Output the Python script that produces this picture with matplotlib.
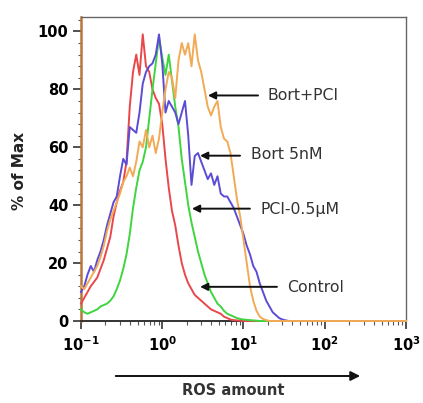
import matplotlib
matplotlib.use("Agg")
import matplotlib.pyplot as plt
import numpy as np
from matplotlib.ticker import FixedLocator, NullFormatter

# ---- data (log10 of ROS amount, histogram % of max) ----
log_ros = [-1.00, -0.96, -0.92, -0.88, -0.84, -0.80, -0.76, -0.72, -0.68, -0.64,
           -0.60, -0.56, -0.52, -0.48, -0.44, -0.40, -0.36, -0.32, -0.28, -0.24,
           -0.20, -0.16, -0.12, -0.08, -0.04, 0.00, 0.04, 0.08, 0.12, 0.16,
           0.20, 0.24, 0.28, 0.32, 0.36, 0.40, 0.44, 0.48, 0.52, 0.56,
           0.60, 0.64, 0.68, 0.72, 0.76, 0.80, 0.84, 0.88, 0.92, 0.96,
           1.00, 1.04, 1.08, 1.12, 1.16, 1.20, 1.24, 1.28, 1.32, 1.36,
           1.40, 1.44, 1.48, 1.52, 1.56, 1.60, 3.00]

control = [6, 8, 10, 12, 13.5, 15, 18, 21, 25, 29,
           36, 41, 45, 48, 55, 74, 86, 92, 85, 99,
           88, 86, 80, 77, 75, 68, 56, 46, 38, 33,
           26, 20, 16, 13, 11, 9, 8, 7, 6, 5,
           4, 3.5, 3, 2.5, 1.5, 1, 0.5, 0.3, 0.2, 0.1,
           0, 0, 0, 0, 0, 0, 0, 0, 0, 0,
           0, 0, 0, 0, 0, 0, 0]

pci = [4, 3, 2.5, 3, 3.5, 4, 5, 5.5, 6, 7,
       8.5, 11, 14, 18, 23, 30, 39, 46, 52, 55,
       60, 70, 80, 89, 98, 91, 85, 92, 83, 74,
       67, 56, 48, 40, 34, 29, 24, 20, 16, 13,
       10, 8, 6, 5, 3.5, 2.5, 2, 1.5, 1, 0.7,
       0.5, 0.4, 0.3, 0.2, 0.1, 0, 0, 0, 0, 0,
       0, 0, 0, 0, 0, 0, 0]

bort = [10, 12, 16, 19, 17, 21, 24, 28, 33, 37,
        41, 43, 50, 56, 54, 67, 66, 65, 72, 82,
        86, 88, 89, 92, 99, 89, 72, 76, 74, 72,
        68, 72, 76, 64, 47, 57, 58, 55, 52, 49,
        51, 47, 50, 44, 43, 43, 41, 39, 36, 33,
        30, 26, 23, 19, 17, 13, 10, 7, 5, 3,
        2, 1, 0.5, 0.2, 0, 0, 0]

bort_pci = [12, 11, 13, 15, 17, 19, 22, 26, 31, 35,
            38, 41, 44, 48, 50, 53, 50, 55, 62, 60,
            66, 60, 64, 58, 63, 72, 80, 86, 84, 77,
            90, 96, 92, 96, 88, 99, 90, 86, 80, 74,
            71, 74, 76, 67, 63, 62, 58, 50, 42, 36,
            28, 20, 12, 7, 3.5, 1.5, 0.7, 0.3, 0, 0,
            0, 0, 0, 0, 0, 0, 0]

series = [("Control", control, "#e8474c"),
          ("PCI-0.5\u03bcM", pci, "#3fd53f"),
          ("Bort 5nM", bort, "#5b4cd6"),
          ("Bort+PCI", bort_pci, "#f2aa55")]

x_ticks = [0.1, 1, 10, 100, 1000]
x_tick_labels = [r"$\mathbf{10^{-1}}$", r"$\mathbf{10^{0}}$", r"$\mathbf{10^{1}}$",
                 r"$\mathbf{10^{2}}$", r"$\mathbf{10^{3}}$"]
y_ticks = [0, 20, 40, 60, 80, 100]

# annotation: label, arrow head (x, y), arrow tail x, text x, text y
annotations = [("Bort+PCI", 3.65, 77.9, 15.1, 20.0, 77.9),
               ("Bort 5nM", 2.92, 57.1, 9.06, 12.4, 57.4),
               ("PCI-0.5\u03bcM", 2.32, 38.8, 12.0, 16.0, 38.6),
               ("Control", 2.92, 11.8, 25.8, 34.3, 11.6)]

plt.rcParams["font.family"] = ["DejaVu Sans"]
plt.rcParams["mathtext.fontset"] = "dejavusans"

fig = plt.figure(figsize=(4.23, 4.03), dpi=100)
ax = fig.add_axes([0.1915, 0.2035, 0.7683, 0.7543])

ax.set_xscale("log")
ax.set_xlim(0.1, 1000)
ax.set_ylim(0, 105)

ax.xaxis.set_major_locator(FixedLocator(x_ticks))
ax.set_xticklabels(x_tick_labels)
ax.xaxis.set_minor_locator(FixedLocator(
    [m * 10.0 ** e for e in range(-1, 3) for m in range(2, 10)]))
ax.xaxis.set_minor_formatter(NullFormatter())
ax.set_yticks(y_ticks)
ax.set_yticks(np.arange(0, 105, 4), minor=True)

ax.tick_params(axis="x", which="major", length=6, width=1.2, color="#333333",
               labelsize=10.5, pad=4)
ax.tick_params(axis="x", which="minor", length=3, width=0.8, color="#555555")
ax.tick_params(axis="y", which="major", length=6, width=1.2, color="#333333",
               labelsize=10.5, pad=3)
ax.tick_params(axis="y", which="minor", length=2.5, width=0.8, color="#555555")
for lbl in ax.get_yticklabels():
    lbl.set_fontweight("bold")

for s in ("top", "right"):
    ax.spines[s].set_color("#666666")
    ax.spines[s].set_linewidth(1.0)
ax.spines["bottom"].set_color("#333333")
ax.spines["bottom"].set_linewidth(1.4)
ax.spines["left"].set_color("#b8763a")
ax.spines["left"].set_linewidth(1.8)

xs = 10 ** np.array(log_ros)
for name, vals, col in series:
    ax.plot(xs, vals, color=col, lw=1.4, solid_joinstyle="round",
            zorder=3, clip_on=False)

for label, hx, hy, tx, lx, ly in annotations:
    ax.annotate("", xy=(hx, hy), xytext=(tx, hy),
                arrowprops=dict(arrowstyle="-|>", color="#111111", lw=1.4,
                                mutation_scale=11, shrinkA=0, shrinkB=0))
    ax.text(lx, ly, label, ha="left", va="center", fontsize=11.3,
            color="#333333")

fig.text(0.047, 0.576, "% of Max", rotation=90, ha="center", va="center",
         fontsize=11, fontweight="bold", color="#222222")

fig.add_artist(matplotlib.patches.FancyArrowPatch(
    (0.267, 0.067), (0.858, 0.067), transform=fig.transFigure,
    arrowstyle="-|>", mutation_scale=14, color="#111111", lw=1.4))
fig.text(0.552, 0.030, "ROS amount", ha="center", va="center",
         fontsize=10.5, fontweight="bold", color="#333333")

fig.savefig("out.png", dpi=100)
